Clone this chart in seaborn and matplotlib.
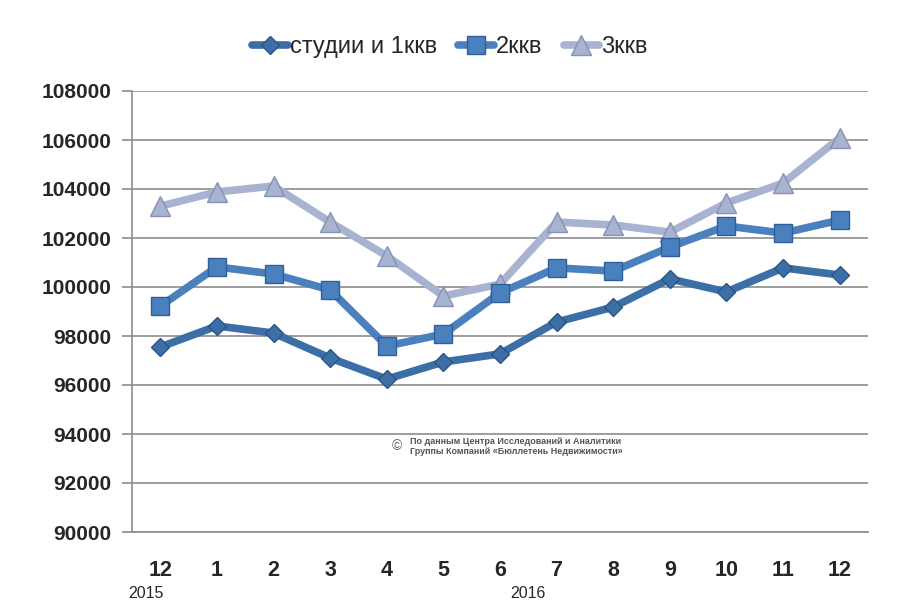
import matplotlib
matplotlib.use("Agg")
import matplotlib.pyplot as plt
import numpy as np
import pandas as pd
import seaborn as sns

months = ['12', '1', '2', '3', '4', '5', '6', '7', '8', '9', '10', '11', '12']
studio_1k = [97550, 98410, 98120, 97100, 96240, 96940, 97270, 98570, 99180, 100330, 99800, 100780, 100490]
k2 = [99220, 100820, 100530, 99880, 97590, 98080, 99760, 100780, 100650, 101630, 102490, 102200, 102730]
k3 = [103300, 103880, 104120, 102650, 101270, 99630, 100120, 102650, 102530, 102240, 103430, 104240, 106080]
series_names = ['студии и 1ккв', '2ккв', '3ккв']
years = ['2015', '2016']

rows = []
for name, vals in zip(series_names, [studio_1k, k2, k3]):
    for i, v in enumerate(vals):
        rows.append({'pos': i, 'value': v, 'series': name})
df = pd.DataFrame(rows)

sns.set_style("white")
plt.rcParams['font.family'] = ['Liberation Sans', 'DejaVu Sans']

fig = plt.figure(figsize=(9, 6.11), dpi=100)
ax = fig.add_axes([132 / 900, 1 - 532 / 611, (868 - 132) / 900, (532 - 91) / 611])

palette = {'студии и 1ккв': '#3D6FA7', '2ккв': '#4A80BE', '3ккв': '#A7B3D0'}
edges = {'студии и 1ккв': '#2C5587', '2ккв': '#2F5F96', '3ккв': '#8592B3'}
markers = {'студии и 1ккв': 'D', '2ккв': 's', '3ккв': '^'}
msize = {'студии и 1ккв': 9.5, '2ккв': 13, '3ккв': 14}

# рисуем в обратном порядке, чтобы тёмная линия была сверху
for name in series_names[::-1]:
    sub = df[df['series'] == name]
    sns.lineplot(data=sub, x='pos', y='value', ax=ax, color=palette[name],
                 linewidth=5.5, marker=markers[name], markersize=msize[name],
                 markeredgecolor=edges[name], markeredgewidth=1.0,
                 label=name, zorder=3)

ax.set_ylim(90000, 108000)
ax.set_yticks(np.arange(90000, 108001, 2000))
ax.set_yticklabels([str(v) for v in range(90000, 108001, 2000)],
                   fontsize=15, fontweight='bold')
ax.grid(axis='y', color='#8c8c8c', linewidth=1.2)
ax.set_axisbelow(True)

ax.set_xlim(-0.5, 12.5)
ax.set_xticks(np.arange(-0.5, 13, 1))
ax.set_xticklabels([])
ax.set_xticks(range(len(months)), minor=True)
ax.set_xticklabels(months, minor=True, fontsize=15.5, fontweight='bold')
ax.tick_params(axis='x', which='major', length=8, color='#8c8c8c', width=1.2, direction='out')
ax.tick_params(axis='x', which='minor', length=0, pad=20)
ax.tick_params(axis='y', length=7, color='#8c8c8c', width=1.2, direction='out', pad=8, left=True)

for s in ['top', 'right']:
    ax.spines[s].set_visible(False)
for s in ['left', 'bottom']:
    ax.spines[s].set_color('#8c8c8c')
    ax.spines[s].set_linewidth(1.2)

ax.set_xlabel('')
ax.set_ylabel('')

ax.text(-0.25, -0.14, years[0], transform=ax.get_xaxis_transform(), ha='center',
        va='center', fontsize=11.5)
ax.text(6.5, -0.14, years[1], transform=ax.get_xaxis_transform(), ha='center',
        va='center', fontsize=11.5)

handles, labels = ax.get_legend_handles_labels()
order = [labels.index(n) for n in series_names]
ax.legend([handles[i] for i in order], [labels[i] for i in order],
          loc='center', bbox_to_anchor=(0.5, (611 - 47) / 611), bbox_transform=fig.transFigure,
          ncol=3, frameon=False, fontsize=17, handlelength=1.5, handletextpad=0.1,
          columnspacing=0.9)

ax.text(4.18, 93500, '©', fontsize=10, color='#666666', ha='center', va='center')
ax.text(4.41, 93500, 'По данным Центра Исследований и Аналитики\nГруппы Компаний «Бюллетень Недвижимости»',
        fontsize=6.5, color='#555555', ha='left', va='center', fontweight='bold', linespacing=1.1)

fig.savefig('out.png', dpi=100)
